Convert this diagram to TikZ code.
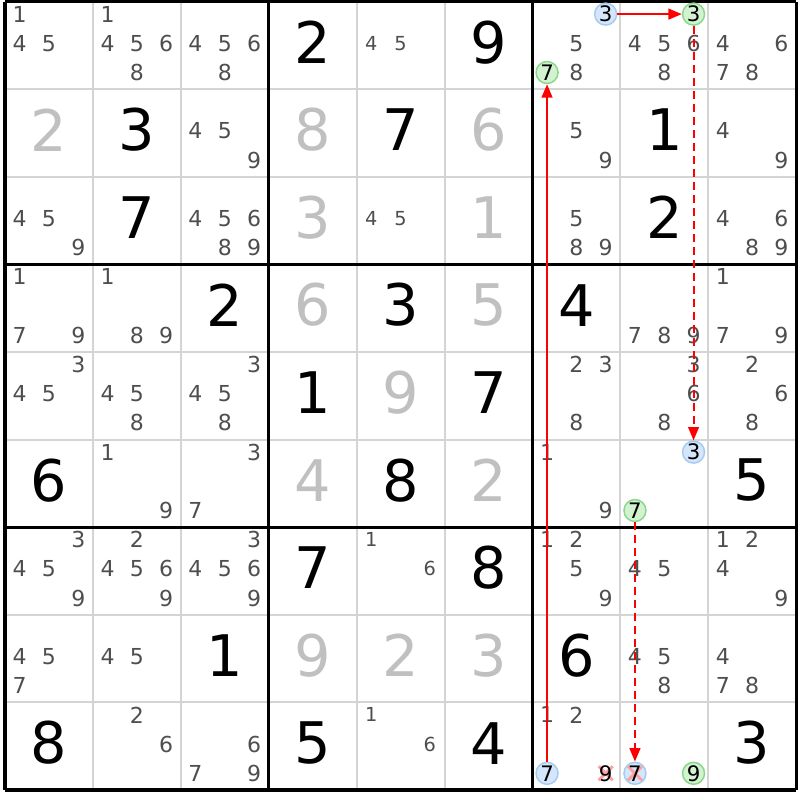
\documentclass[tikz,border=0pt]{standalone}
\usepackage{fontspec}
\setmainfont{DejaVu Sans}
\usetikzlibrary{arrows.meta}
\definecolor{candgray}{HTML}{4E4E4E}
\definecolor{solvgray}{HTML}{C0C0C0}
\definecolor{gridgray}{HTML}{D4D4D4}
\definecolor{bluefill}{HTML}{D5E6FA}
\definecolor{blueline}{HTML}{A4CBF2}
\definecolor{greenfill}{HTML}{D2F2D2}
\definecolor{greenline}{HTML}{88D888}
\definecolor{crossred}{HTML}{FFA0A0}
\definecolor{arrred}{HTML}{FF0000}
\tikzset{
  candtxt/.style={inner sep=0pt, text=candgray, font=\fontsize{16.5pt}{16.5pt}\selectfont},
  candsm/.style={candtxt, font=\fontsize{14.5pt}{14.5pt}\selectfont},
  giventxt/.style={inner sep=0pt, text=black, font=\fontsize{43pt}{43pt}\selectfont},
  solvedtxt/.style={giventxt, text=solvgray},
  circbase/.style={circle, inner sep=0pt, minimum size=16.5pt, line width=1.1pt, text=black, font=\fontsize{16pt}{16pt}\selectfont},
  bluecirc/.style={circbase, draw=blueline, fill=bluefill},
  greencirc/.style={circbase, draw=greenline, fill=greenfill},
  crossmark/.style={crossred, line width=2.2pt},
  crossed/.style={path picture={
      \draw[crossmark] ([shift={(-7,-7)}]path picture bounding box.center) -- ([shift={(7,7)}]path picture bounding box.center);
      \draw[crossmark] ([shift={(-7,7)}]path picture bounding box.center) -- ([shift={(7,-7)}]path picture bounding box.center);}},
  crossplain/.style={circle, inner sep=0pt, minimum size=16.5pt, text=black, font=\fontsize{16pt}{16pt}\selectfont, crossed},
  thinline/.style={gridgray, line width=1.5pt},
  thickline/.style={black, line width=2.4pt},
  linkarrow/.style={arrred, line width=1.5pt, -{Triangle[length=10pt,width=8pt]}},
  weakarrow/.style={linkarrow, dash pattern=on 6pt off 3.75pt},
}
\newcommand\CandD[4]{\foreach \d in {#3}{%
  \pgfmathtruncatemacro\kx{mod(\d-1,3)}%
  \pgfmathtruncatemacro\ky{(\d-1)/3}%
  \node[#4] (n-#1-#2-\d) at ({5+(#2-1)*87.9+(\kx+0.5)*29.3},{1.5+(#1-1)*87.6+(\ky+0.5)*29.2-2}) {\d};}}
\newcommand\GivenD[4]{\node[#4] (g-#1-#2) at ({5+(#2-0.5)*87.9},{1.5+(#1-0.5)*87.6-3}) {#3};}
\begin{document}
\begin{tikzpicture}[x=0.75pt,y=-0.75pt]
\useasboundingbox (0,0) rectangle (800,800);
\fill[white] (0,0) rectangle (800,800);
% grid
\foreach \i in {1,2,4,5,7,8}{
  \draw[thinline] ({5+\i*87.9},1.5) -- ({5+\i*87.9},789.9);
  \draw[thinline] (5,{1.5+\i*87.6}) -- (796.1,{1.5+\i*87.6});
}
\foreach \i in {0,3,6,9}{
  \draw[thickline] ({5+\i*87.9},1.5) -- ({5+\i*87.9},789.9);
  \draw[thickline] (5,{1.5+\i*87.6}) -- (796.1,{1.5+\i*87.6});
}
% row 1
\CandD{1}{1}{1,4,5}{candtxt}
\CandD{1}{2}{1,4,5,6,8}{candtxt}
\CandD{1}{3}{4,5,6,8}{candtxt}
\GivenD{1}{4}{2}{giventxt}
\CandD{1}{5}{4,5}{candsm}
\GivenD{1}{6}{9}{giventxt}
\CandD{1}{7}{5,8}{candtxt}
\CandD{1}{7}{3}{bluecirc}
\CandD{1}{7}{7}{greencirc}
\CandD{1}{8}{4,5,6,8}{candtxt}
\CandD{1}{8}{3}{greencirc}
\CandD{1}{9}{4,6,7,8}{candtxt}
% row 2
\GivenD{2}{1}{2}{solvedtxt}
\GivenD{2}{2}{3}{giventxt}
\CandD{2}{3}{4,5,9}{candtxt}
\GivenD{2}{4}{8}{solvedtxt}
\GivenD{2}{5}{7}{giventxt}
\GivenD{2}{6}{6}{solvedtxt}
\CandD{2}{7}{5,9}{candtxt}
\GivenD{2}{8}{1}{giventxt}
\CandD{2}{9}{4,9}{candtxt}
% row 3
\CandD{3}{1}{4,5,9}{candtxt}
\GivenD{3}{2}{7}{giventxt}
\CandD{3}{3}{4,5,6,8,9}{candtxt}
\GivenD{3}{4}{3}{solvedtxt}
\CandD{3}{5}{4,5}{candsm}
\GivenD{3}{6}{1}{solvedtxt}
\CandD{3}{7}{5,8,9}{candtxt}
\GivenD{3}{8}{2}{giventxt}
\CandD{3}{9}{4,6,8,9}{candtxt}
% row 4
\CandD{4}{1}{1,7,9}{candtxt}
\CandD{4}{2}{1,8,9}{candtxt}
\GivenD{4}{3}{2}{giventxt}
\GivenD{4}{4}{6}{solvedtxt}
\GivenD{4}{5}{3}{giventxt}
\GivenD{4}{6}{5}{solvedtxt}
\GivenD{4}{7}{4}{giventxt}
\CandD{4}{8}{7,8,9}{candtxt}
\CandD{4}{9}{1,7,9}{candtxt}
% row 5
\CandD{5}{1}{3,4,5}{candtxt}
\CandD{5}{2}{4,5,8}{candtxt}
\CandD{5}{3}{3,4,5,8}{candtxt}
\GivenD{5}{4}{1}{giventxt}
\GivenD{5}{5}{9}{solvedtxt}
\GivenD{5}{6}{7}{giventxt}
\CandD{5}{7}{2,3,8}{candtxt}
\CandD{5}{8}{3,6,8}{candtxt}
\CandD{5}{9}{2,6,8}{candtxt}
% row 6
\GivenD{6}{1}{6}{giventxt}
\CandD{6}{2}{1,9}{candtxt}
\CandD{6}{3}{3,7}{candtxt}
\GivenD{6}{4}{4}{solvedtxt}
\GivenD{6}{5}{8}{giventxt}
\GivenD{6}{6}{2}{solvedtxt}
\CandD{6}{7}{1,9}{candtxt}
\CandD{6}{8}{3}{bluecirc}
\CandD{6}{8}{7}{greencirc}
\GivenD{6}{9}{5}{giventxt}
% row 7
\CandD{7}{1}{3,4,5,9}{candtxt}
\CandD{7}{2}{2,4,5,6,9}{candtxt}
\CandD{7}{3}{3,4,5,6,9}{candtxt}
\GivenD{7}{4}{7}{giventxt}
\CandD{7}{5}{1,6}{candsm}
\GivenD{7}{6}{8}{giventxt}
\CandD{7}{7}{1,2,5,9}{candtxt}
\CandD{7}{8}{4,5}{candtxt}
\CandD{7}{9}{1,2,4,9}{candtxt}
% row 8
\CandD{8}{1}{4,5,7}{candtxt}
\CandD{8}{2}{4,5}{candtxt}
\GivenD{8}{3}{1}{giventxt}
\GivenD{8}{4}{9}{solvedtxt}
\GivenD{8}{5}{2}{solvedtxt}
\GivenD{8}{6}{3}{solvedtxt}
\GivenD{8}{7}{6}{giventxt}
\CandD{8}{8}{4,5,8}{candtxt}
\CandD{8}{9}{4,7,8}{candtxt}
% row 9
\GivenD{9}{1}{8}{giventxt}
\CandD{9}{2}{2,6}{candtxt}
\CandD{9}{3}{6,7,9}{candtxt}
\GivenD{9}{4}{5}{giventxt}
\CandD{9}{5}{1,6}{candsm}
\GivenD{9}{6}{4}{giventxt}
\CandD{9}{7}{1,2}{candtxt}
\CandD{9}{7}{7}{bluecirc}
\CandD{9}{7}{9}{crossplain}
\CandD{9}{8}{7}{{bluecirc,crossed}}
\CandD{9}{8}{9}{greencirc}
\GivenD{9}{9}{3}{giventxt}
% links
\draw[linkarrow] (n-9-7-7) -- (n-1-7-7);
\draw[linkarrow] (n-1-7-3) -- (n-1-8-3);
\draw[weakarrow] (n-1-8-3) -- (n-6-8-3);
\draw[weakarrow] (n-6-8-7) -- (n-9-8-7);
\end{tikzpicture}
\end{document}
